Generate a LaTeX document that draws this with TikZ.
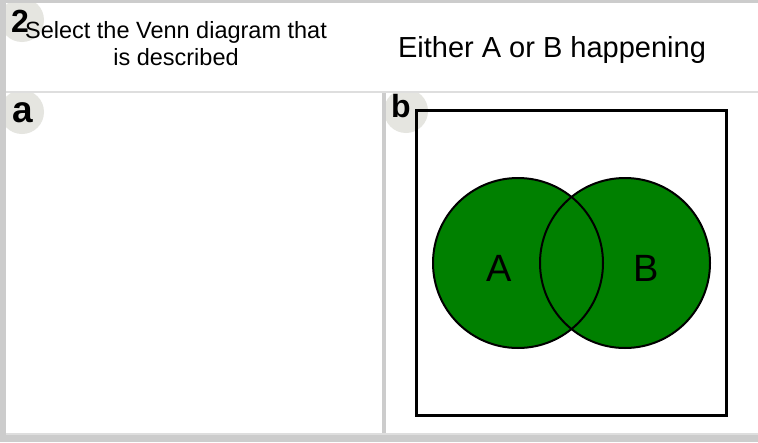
\documentclass[tikz,border=0pt]{standalone}
\usepackage{fontspec}
\setmainfont{Liberation Sans}
\definecolor{framegray}{RGB}{204,204,204}
\definecolor{linegray}{RGB}{222,222,222}
\definecolor{badgegray}{RGB}{229,229,224}
\definecolor{venngreen}{RGB}{0,128,0}
\usetikzlibrary{positioning}

\begin{document}
\begin{tikzpicture}[x=1pt, y=-1pt,
    badge/.style={circle, fill=badgegray, minimum size=44pt, inner sep=0pt},
    tag/.style={anchor=base west, inner sep=0pt, font=\fontsize{32}{32}\selectfont\bfseries},
    venn/.style={circle, fill=venngreen, minimum size=170pt, inner sep=0pt},
    rim/.style={draw=black, line width=2pt},
    setlabel/.style={anchor=base, inner sep=0pt, font=\fontsize{38}{38}\selectfont}
]
    \useasboundingbox (0,0) rectangle (758,442);

    % frame and cells
    \fill[framegray] (0,0) rectangle (758,442);
    \fill[white] (6,3) rectangle (758,91);
    \fill[linegray] (6,91) rectangle (758,93);
    \fill[white] (6,93) rectangle (382,433);
    \fill[white] (386,93) rectangle (758,433);
    \fill[linegray] (6,433) rectangle (758,435);

    % badges
    \begin{scope}
        \clip (6,3) rectangle (758,91);
        \node[badge] (badgeq) at (22,20) {};
    \end{scope}
    \begin{scope}
        \clip (6,93) rectangle (382,433);
        \node[badge] (badgea) at (22,112) {};
    \end{scope}
    \begin{scope}
        \clip (386,93) rectangle (758,433);
        \node[badge] (badgeb) at (406,111) {};
    \end{scope}

    % header texts
    \node[anchor=base, align=center, inner sep=0pt, font=\fontsize{23.5}{25}\selectfont] (prompt) at (176,65) {Select the Venn diagram that\\[2pt]is described};
    \node[anchor=base, inner sep=0pt, font=\fontsize{29}{29}\selectfont] (statement) at (552,57) {Either A or B happening};
    \node[tag] (numq) at (11,32) {2};

    % option b
    \node[draw, line width=3pt, minimum width=310pt, minimum height=305.5pt, inner sep=0pt] (frame) at (571.5,263) {};
    \node[venn] (setA) at (518,263) {};
    \node[venn] (setB) at (625,263) {};
    \draw[rim] (setA.center) circle[radius=85pt];
    \draw[rim] (setB.center) circle[radius=85pt];
    \node[setlabel] (labA) at (499,281) {A};
    \node[setlabel] (labB) at (646,281) {B};

    \node[tag, font=\fontsize{37}{37}\selectfont\bfseries] (taga) at (12,122) {a};
    \node[tag] (tagb) at (391,117) {b};
\end{tikzpicture}
\end{document}
